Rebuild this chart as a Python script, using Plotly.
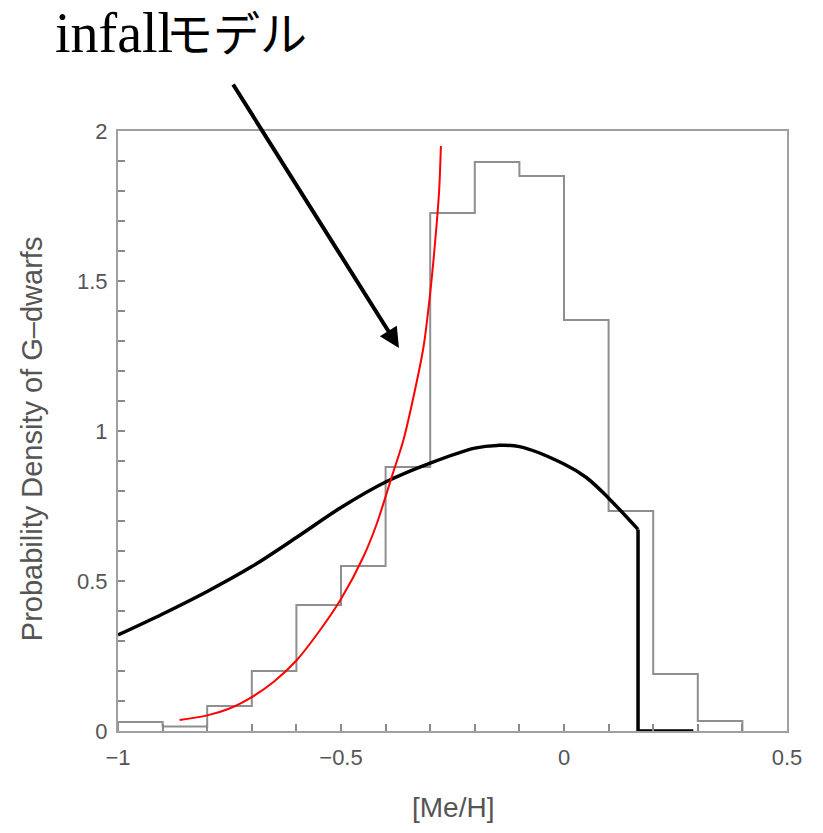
import plotly.graph_objects as go

# Histogram of G-dwarf metallicities
bin_edges = [-1.0, -0.9, -0.8, -0.7, -0.6, -0.5, -0.4, -0.3, -0.2, -0.1, 0.0, 0.1, 0.2, 0.3, 0.4]
hist_density = [0.03, 0.015, 0.083, 0.20, 0.42, 0.55, 0.88, 1.727, 1.897, 1.85, 1.37, 0.733, 0.19, 0.033]

# Black model curve
model_x = [-1.0, -0.9, -0.8, -0.7, -0.6, -0.5, -0.4, -0.3, -0.2, -0.15, -0.1, 0.0, 0.05, 0.1, 0.166]
model_y = [0.32, 0.39, 0.465, 0.548, 0.645, 0.745, 0.83, 0.893, 0.943, 0.952, 0.948, 0.89, 0.845, 0.776, 0.672]
cut_x = [0.166, 0.166, 0.29]
cut_y = [0.672, 0.0, 0.0]

# Red infall model curve
infall_x = [-0.862, -0.80, -0.75, -0.70, -0.65, -0.60, -0.55, -0.50, -0.45, -0.42, -0.386, -0.36, -0.338, -0.315, -0.30, -0.289, -0.28, -0.276]
infall_y = [0.037, 0.052, 0.075, 0.113, 0.165, 0.235, 0.33, 0.44, 0.58, 0.69, 0.848, 0.97, 1.11, 1.28, 1.46, 1.63, 1.80, 1.95]

# Tick labels
x_tickvals = [-1, -0.5, 0, 0.5]
x_ticktext = ["\u22121", "\u22120.5", "0", "0.5"]
y_tickvals = [0, 0.5, 1, 1.5, 2]
y_ticktext = ["0", "0.5", "1", "1.5", "2"]

# Arrow (tail -> head) in data units
arrow_tail = (-0.744, 2.16)
arrow_head = (-0.37, 1.277)

hx = [bin_edges[0]] + bin_edges[:-1] + [bin_edges[-1]]
hy = [0] + hist_density + [0]

fig = go.Figure()
fig.add_trace(go.Scatter(x=hx, y=hy, mode="lines", line=dict(shape="hv", color="#8f8f8f", width=2),
                         showlegend=False, hoverinfo="skip"))
fig.add_trace(go.Scatter(x=model_x, y=model_y, mode="lines",
                         line=dict(shape="spline", smoothing=1.0, color="black", width=3.5),
                         showlegend=False))
fig.add_trace(go.Scatter(x=cut_x, y=cut_y, mode="lines", line=dict(color="black", width=3.5),
                         showlegend=False))
fig.add_trace(go.Scatter(x=infall_x, y=infall_y, mode="lines",
                         line=dict(shape="spline", smoothing=0.8, color="red", width=2),
                         showlegend=False))

tickfont = dict(family="Liberation Sans, Arial, sans-serif", size=22, color="#555555")
axis_common = dict(showline=True, linecolor="#a0a0a0", linewidth=2, mirror=True,
                   ticks="inside", ticklen=7, tickwidth=1.5, tickcolor="#8a8a8a",
                   showgrid=False, zeroline=False, automargin=False, tickfont=tickfont)

fig.update_xaxes(range=[-1, 0.5], tickvals=x_tickvals, ticktext=x_ticktext, ticklabelstandoff=6,
                 minor=dict(dtick=0.1, tick0=-1, ticks="inside", ticklen=7, tickcolor="#8a8a8a", tickwidth=1.5),
                 **axis_common)
fig.update_yaxes(range=[0, 2], tickvals=y_tickvals, ticktext=y_ticktext, ticklabelstandoff=4,
                 minor=dict(dtick=0.1, tick0=0, ticks="inside", ticklen=7, tickcolor="#8a8a8a", tickwidth=1.5),
                 **axis_common)

# Axis titles
fig.add_annotation(x=0.5, y=-0.128, xref="paper", yref="paper", xanchor="center", yanchor="middle",
                   text="[Me/H]", showarrow=False,
                   font=dict(family="Liberation Sans, Arial, sans-serif", size=28, color="#555555"))
fig.add_annotation(x=-0.1286, y=0.488, xref="paper", yref="paper", xanchor="center", yanchor="middle",
                   text="Probability Density of G\u2013dwarfs", textangle=-90, showarrow=False,
                   font=dict(family="Liberation Sans, Arial, sans-serif", size=29, color="#555555"))

fig.add_annotation(x=arrow_head[0], y=arrow_head[1], ax=arrow_tail[0], ay=arrow_tail[1],
                   xref="x", yref="y", axref="x", ayref="y", text="", showarrow=True,
                   arrowhead=2, arrowsize=1.0, arrowwidth=4, arrowcolor="black")

fig.add_annotation(x=-0.0972, y=1.163, xref="paper", yref="paper", xanchor="left", yanchor="middle",
                   text="infall", showarrow=False,
                   font=dict(family="Liberation Serif, Times New Roman, serif", size=56, color="black"))
fig.add_annotation(x=0.0687, y=1.168, xref="paper", yref="paper", xanchor="left", yanchor="middle",
                   text="モデル", showarrow=False,
                   font=dict(family="Noto Sans CJK JP", size=47, color="black"))

fig.update_layout(width=815, height=825, margin=dict(l=110, r=36, t=123, b=102),
                  plot_bgcolor="white", paper_bgcolor="white")

fig.write_html("out.html")
